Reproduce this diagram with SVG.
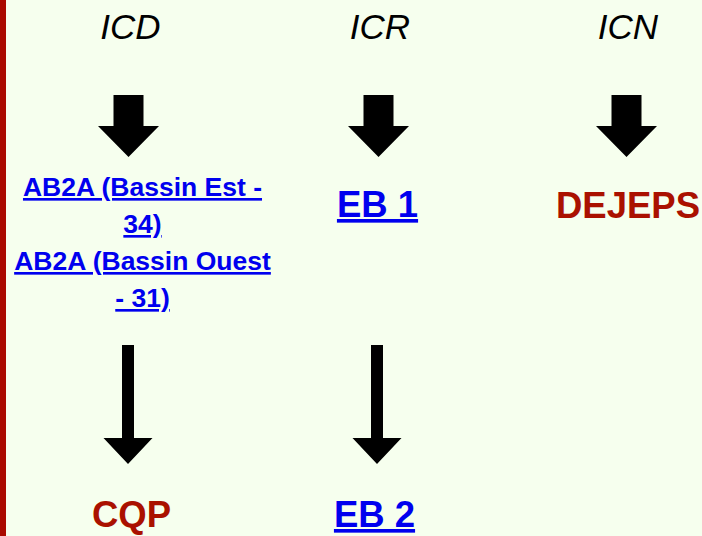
<svg xmlns="http://www.w3.org/2000/svg" width="702" height="536" viewBox="0 0 702 536">
  <style>
    .hdr { font-family: "Liberation Sans", Arial, sans-serif; font-style: italic; font-size: 35px; fill: #000; text-anchor: middle; }
    .lnk { font-family: "Liberation Sans", Arial, sans-serif; font-weight: bold; fill: #0000EE; text-anchor: middle; text-decoration: underline; }
    .red { font-family: "Liberation Sans", Arial, sans-serif; font-weight: bold; font-size: 36.5px; fill: #AA1100; text-anchor: middle; }
    .small { font-size: 26.5px; }
    .big { font-size: 36.5px; }
    .arrow { fill: #000; }
  </style>
  <rect x="0" y="0" width="702" height="536" fill="#F6FFEE"/>
  <rect x="0" y="0" width="6" height="536" fill="#AA0A00"/>

  <g id="icd"><text class="hdr" x="130.5" y="39">ICD</text></g>
  <g id="icr"><text class="hdr" x="380" y="39">ICR</text></g>
  <g id="icn"><text class="hdr" x="628" y="39">ICN</text></g>

  <g id="ab2a">
    <text class="lnk small" x="142.5" y="196">AB2A (Bassin Est -</text>
    <text class="lnk small" x="142.5" y="233">34)</text>
    <text class="lnk small" x="142.5" y="270">AB2A (Bassin Ouest</text>
    <text class="lnk small" x="142.5" y="307">- 31)</text>
  </g>
  <g id="eb1"><text class="lnk big" x="377.5" y="217">EB 1</text></g>
  <g id="dejeps"><text class="red" x="628" y="218">DEJEPS</text></g>
  <g id="cqp"><text class="red" x="131.5" y="527">CQP</text></g>
  <g id="eb2"><text class="lnk big" x="374.5" y="527">EB 2</text></g>

  <g id="connectors">
    <polygon class="arrow" points="113.5,95 143.5,95 143.5,126 159,126 128.5,157 98,126 113.5,126"/>
    <polygon class="arrow" points="363.5,95 393.5,95 393.5,126 409,126 378.5,157 348,126 363.5,126"/>
    <polygon class="arrow" points="611.5,95 641.5,95 641.5,126 657,126 626.5,157 596,126 611.5,126"/>
    <polygon class="arrow" points="122,345 134,345 134,438 152.5,438 128,464 103.5,438 122,438"/>
    <polygon class="arrow" points="371,345 383,345 383,438 401.5,438 377,464 352.5,438 371,438"/>
  </g>
</svg>
